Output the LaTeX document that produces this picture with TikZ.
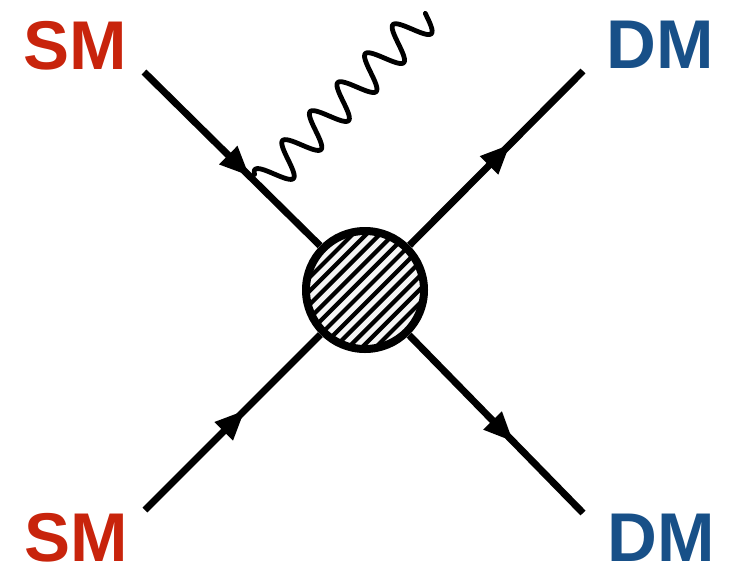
\documentclass[tikz,border=0pt]{standalone}
\usepackage{fontspec}
\setmainfont{Liberation Sans}
\usetikzlibrary{calc,decorations.markings,arrows.meta}
\definecolor{smred}{RGB}{200,36,12}
\definecolor{dmblue}{RGB}{24,80,136}
\tikzset{
  fermion/.style={line width=7pt,
    postaction={decorate},
    decoration={markings,mark=at position #1 with {\arrow{Triangle[length=30pt,width=24pt]}}}},
  photon/.style={line width=4.8pt,line cap=round},
  blobstyle/.style={circle,minimum size=126pt,inner sep=0pt,fill=gray!8},
  smlabel/.style={text=smred,font=\bfseries\fontsize{69}{69}\selectfont,inner sep=0pt,anchor=base},
  dmlabel/.style={text=dmblue,font=\bfseries\fontsize{69}{69}\selectfont,inner sep=0pt,anchor=base}
}
\begin{document}
\begin{tikzpicture}[x=1pt,y=-1pt]
\useasboundingbox (0,0) rectangle (733,566);
\coordinate (tl) at (144,72);
\coordinate (bl) at (145,510);
\coordinate (tr) at (583,71);
\coordinate (br) at (583,513);
\coordinate (ps) at (252,177);
\node[blobstyle] (blob) at (365,290) {};
\begin{scope}
  \clip (blob.center) circle (56pt);
  \foreach \k in {-10,...,10} {
    \draw[line width=4.2pt] ($(blob.center)+(\k*13.6,0)+(-80,80)$) -- ++(160,-160);
  }
\end{scope}
\draw[line width=8pt] (blob.center) circle (59pt);
\draw[fermion=0.6] (tl) -- (blob);
\draw[fermion=0.57] (bl) -- (blob);
\draw[fermion=0.58] (blob) -- (tr);
\draw[fermion=0.6] (blob) -- (br);
\begin{scope}[shift={(ps)},rotate=46.4]
  \draw[photon] plot[domain=3.6:238,samples=240,smooth] (\x,{14-17*cos(9*(\x-7.5))});
\end{scope}
\node[smlabel] (sm1) at (75.5,69) {SM};
\node[dmlabel] (dm1) at (660,68) {DM};
\node[smlabel] (sm2) at (76,561) {SM};
\node[dmlabel] (dm2) at (661,561) {DM};
\end{tikzpicture}
\end{document}
